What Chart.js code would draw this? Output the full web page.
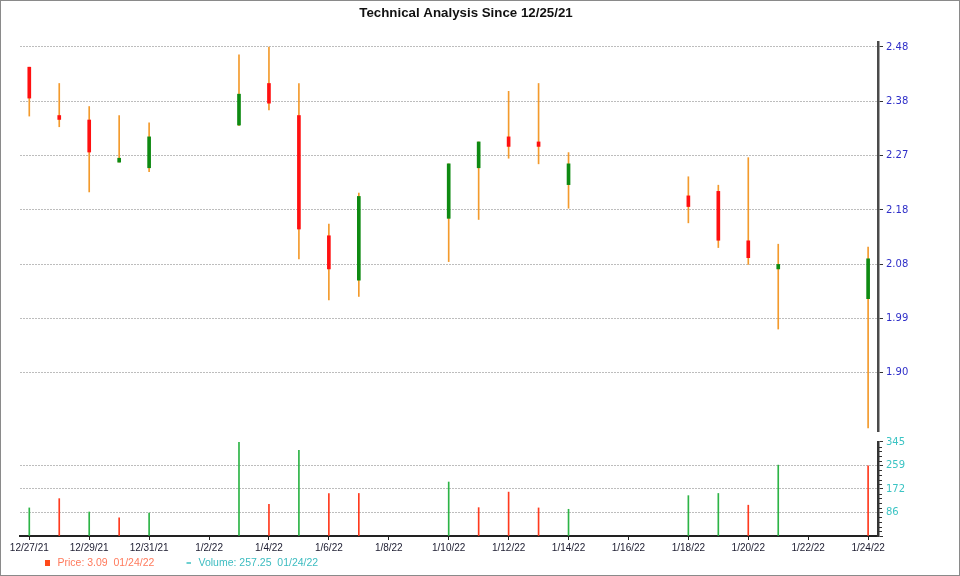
<!DOCTYPE html>
<html><head><meta charset="utf-8">
<script src="https://cdn.jsdelivr.net/npm/chart.js@4"></script>
<style>html,body{margin:0;padding:0;background:#fff}canvas{display:block}</style>
</head><body>
<canvas id="c" width="960" height="576"></canvas>
<script>
// ---- data ----
const dates = ['12/27/21','12/28/21','12/29/21','12/30/21','12/31/21','1/3/22','1/4/22','1/5/22','1/6/22','1/7/22',
               '1/10/22','1/11/22','1/12/22','1/13/22','1/14/22','1/18/22','1/19/22','1/20/22','1/21/22','1/24/22'];
const openP  = [2.444,2.358,2.350,2.275,2.265,2.341,2.415,2.358,2.144,2.065,2.175,2.265,2.320,2.311,2.235,2.215,2.223,2.135,2.085,2.032];
const highP  = [2.444,2.415,2.374,2.358,2.345,2.466,2.480,2.415,2.165,2.220,2.272,2.311,2.401,2.415,2.292,2.249,2.234,2.283,2.129,2.124];
const lowP   = [2.357,2.338,2.222,2.275,2.258,2.340,2.368,2.103,2.030,2.036,2.098,2.173,2.282,2.272,2.193,2.167,2.123,2.093,1.978,1.802];
const closeP = [2.389,2.351,2.293,2.282,2.320,2.396,2.380,2.156,2.085,2.214,2.272,2.311,2.303,2.303,2.272,2.196,2.136,2.105,2.093,2.103];
const volume = [103,137,88,67,84,345,116,314,156,156,198,104,161,103,98,148,156,113,260,257.25];
const volumeUp = [true,false,true,false,true,true,false,true,false,false,true,false,false,false,true,true,true,false,true,false];
const xTickLabels = ['12/27/21','12/29/21','12/31/21','1/2/22','1/4/22','1/6/22','1/8/22','1/10/22','1/12/22','1/14/22','1/16/22','1/18/22','1/20/22','1/22/22','1/24/22'];
const priceTickLabels = ['1.90','1.99','2.08','2.18','2.27','2.38','2.48'];
const volumeTickLabels = ['','86','172','259','345'];
const titleText = 'Technical Analysis Since 12/25/21';
const legendPrice = 'Price: 3.09  01/24/22';
const legendVolume = 'Volume: 257.25  01/24/22';

// ---- helpers ----
function dayIndex(s){ const [m,d,y]=s.split('/').map(Number); const [m0,d0,y0]=dates[0].split('/').map(Number);
  return (Date.UTC(2000+y,m-1,d)-Date.UTC(2000+y0,m0-1,d0))/864e5; }
const pLo = parseFloat(priceTickLabels[0]), pHi = parseFloat(priceTickLabels[priceTickLabels.length-1]);
const priceTickVals = priceTickLabels.map((_,i)=> pLo + i*(pHi-pLo)/(priceTickLabels.length-1));
const VOL_MAX = parseFloat(volumeTickLabels[volumeTickLabels.length-1]);
const volTickVals = volumeTickLabels.map((_,i)=> i*VOL_MAX/(volumeTickLabels.length-1));

const GREEN_BODY = '#0e8a12', RED_BODY = '#ff1010', WICK = '#f39a2c';
const VOL_GREEN = '#2cb446', VOL_RED = '#ff3a1e';
const bodyColors = openP.map((o,i)=> closeP[i] >= o ? GREEN_BODY : RED_BODY);
const volColors = volumeUp.map(u => u ? VOL_GREEN : VOL_RED);

const framePlugin = {
  id:'frame',
  afterDraw(chart){
    const ctx = chart.ctx;
    ctx.save();
    ctx.strokeStyle = '#8a8a8a'; ctx.lineWidth = 1;
    ctx.strokeRect(0.5,0.5,chart.width-1,chart.height-1);
    // minor ticks on the volume axis
    const vs = chart.scales.vol;
    ctx.strokeStyle = '#333'; ctx.lineWidth = 1;
    const step = VOL_MAX/20;
    for (let k=1;k<20;k++){
      if (k%5===0) continue;
      const y = Math.round(vs.getPixelForValue(k*step))+0.5;
      ctx.beginPath(); ctx.moveTo(vs.left+1, y); ctx.lineTo(vs.left+4, y); ctx.stroke();
    }
    // legend
    const ly = chart.height - 13;
    ctx.font = '10.5px "Liberation Sans", Arial, sans-serif';
    ctx.textBaseline = 'middle'; ctx.textAlign = 'left';
    ctx.fillStyle = '#ff4a1a';
    ctx.fillRect(45, ly-3, 5, 6);
    ctx.fillStyle = '#ff7a5c';
    ctx.fillText(legendPrice, 57.5, ly);
    ctx.strokeStyle = '#3cc0c0'; ctx.lineWidth = 1.5;
    ctx.beginPath(); ctx.moveTo(186.5, ly); ctx.lineTo(191, ly); ctx.stroke();
    ctx.fillStyle = '#3cbcc0';
    ctx.fillText(legendVolume, 198.5, ly);
    ctx.restore();
  }
};

const yFont = {family:'"DejaVu Sans", Verdana, sans-serif', size:10};

new Chart(document.getElementById('c'), {
  type:'bar',
  data:{
    datasets:[
      { label:'body', data: dates.map((d,i)=>({x:dayIndex(d), y:[openP[i], closeP[i]]})),
        backgroundColor: bodyColors, barThickness:3, grouped:false, xAxisID:'x', yAxisID:'price' },
      { label:'wick', data: dates.map((d,i)=>({x:dayIndex(d), y:[lowP[i], highP[i]]})),
        backgroundColor: WICK, barThickness:1, grouped:false, xAxisID:'x', yAxisID:'price' },
      { label:'volume', data: dates.map((d,i)=>({x:dayIndex(d), y:volume[i]})),
        backgroundColor: volColors, barThickness:1, grouped:false, xAxisID:'x', yAxisID:'vol' }
    ]
  },
  options:{
    responsive:false, animation:false, devicePixelRatio:1,
    layout:{padding:{left:20,right:48,top:0,bottom:20}},
    plugins:{
      legend:{display:false}, tooltip:{enabled:false},
      title:{display:true, text:titleText, color:'#111',
        font:{family:'"Liberation Sans", Arial, sans-serif', size:13.3, weight:'bold'},
        padding:{top:5,bottom:21}}
    },
    scales:{
      x:{ type:'linear', position:'bottom', min:-0.31, max:28.33, offset:false,
        afterBuildTicks: s => { s.ticks = xTickLabels.map(l=>({value:dayIndex(l)})); },
        ticks:{ autoSkip:false, maxRotation:0, padding:2, color:'#1c1c30',
          font:{family:'"Liberation Sans", Arial, sans-serif', size:10},
          callback:(v,i)=> xTickLabels[i] },
        grid:{ display:true, offset:false, drawOnChartArea:false, drawTicks:true, tickLength:4, tickColor:'#222', lineWidth:1 },
        border:{ display:true, color:'#222', width:2 },
        afterFit: s => { s.height = 20; } },
      price:{ type:'linear', position:'right', stack:'r', stackWeight:389.7,
        min: pLo - 0.1051, max: pHi + 0.0089,
        afterBuildTicks: s => { s.ticks = priceTickVals.map(v=>({value:v})); },
        ticks:{ color:'#2e2ec8', font:yFont, padding:3, autoSkip:false, callback:(v,i)=> priceTickLabels[i] },
        grid:{ color:'#bdbdbd', lineWidth:1, tickLength:5, tickColor:'#333', tickWidth:1 },
        border:{ display:true, color:'#4a4a4a', width:2.5, dash:[2,1] },
        afterFit: s => { s.width = 34; } },
      gap:{ type:'linear', position:'right', stack:'r', stackWeight:10, display:true,
        ticks:{display:false}, grid:{display:false, drawTicks:false}, border:{display:false},
        afterFit: s => { s.width = 34; } },
      vol:{ type:'linear', position:'right', stack:'r', stackWeight:94, min:0, max:VOL_MAX,
        afterBuildTicks: s => { s.ticks = volTickVals.map(v=>({value:v})); },
        ticks:{ color:'#3cc4c4', font:yFont, padding:3, autoSkip:false, callback:(v,i)=> volumeTickLabels[i] },
        grid:{ color: c => (c.index===0 || c.index===volTickVals.length-1) ? 'rgba(0,0,0,0)' : '#bdbdbd',
               lineWidth:1, tickLength:5, tickColor:'#333', tickWidth:1 },
        border:{ display:true, color:'#333', width:2.5, dash:[2,1] },
        afterFit: s => { s.width = 34; } }
    }
  },
  plugins:[framePlugin]
});
</script>
</body></html>
